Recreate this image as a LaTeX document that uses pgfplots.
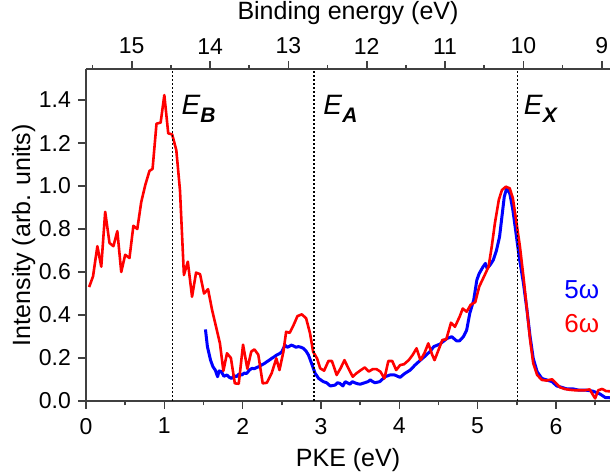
\documentclass[border=0pt]{standalone}
\usepackage{fontspec}
\setmainfont{Liberation Sans}
\setsansfont{Liberation Sans}
\usepackage{pgfplots}
\pgfplotsset{compat=1.18}

\newcommand{\elbl}[1]{\textit{E}\raisebox{-4pt}{\fontsize{10.5}{11}\selectfont\bfseries\itshape #1}}

\pgfplotsset{
  common/.style={
    scale only axis,
    width=262pt, height=165.85pt,
    xmin=0, xmax=6.69, ymin=0, ymax=1.543,
    tick align=outside,
    major tick length=4pt,
    minor tick length=2.2pt,
    every tick/.style={black!75, line width=0.8pt},
    axis line style={black!75, line width=0.8pt},
    every tick label/.append style={font=\fontsize{11.5}{13}\selectfont},
    label style={font=\fontsize{12.5}{14}\selectfont},
    /pgf/number format/assume math mode=true,
  },
}

\begin{document}
\begin{tikzpicture}
\begin{axis}[
    common,
    name=ax,
    axis x line*=bottom,
    axis y line*=left,
    xtick={0,1,2,3,4,5,6},
    minor xtick={0.5,1.5,2.5,3.5,4.5,5.5,6.5},
    ytick={0,0.2,0.4,0.6,0.8,1.0,1.2,1.4},
    yticklabel style={/pgf/number format/.cd, fixed, fixed zerofill, precision=1},
    xticklabel style={yshift=-1pt},
    xlabel={PKE (eV)},
    ylabel={Intensity (arb. units)},
    ylabel shift=-5pt,
]

  % 5 omega
  \addplot[blue, line width=1.5pt, line join=round] coordinates {
    (1.525,0.333) (1.55,0.253) (1.59,0.19) (1.62,0.16) (1.65,0.144) (1.68,0.113)
    (1.70,0.14) (1.73,0.136) (1.76,0.115) (1.80,0.121) (1.83,0.11) (1.86,0.105)
    (1.89,0.118) (1.92,0.113) (1.95,0.125) (1.99,0.121) (2.02,0.13) (2.05,0.128)
    (2.09,0.145) (2.12,0.152) (2.15,0.15) (2.18,0.156) (2.21,0.16) (2.24,0.167)
    (2.28,0.175) (2.31,0.183) (2.34,0.19) (2.37,0.198) (2.40,0.205) (2.435,0.214)
    (2.47,0.22) (2.50,0.229) (2.54,0.26) (2.57,0.25) (2.59,0.253) (2.62,0.26)
    (2.65,0.256) (2.68,0.25) (2.71,0.253) (2.745,0.25) (2.775,0.245) (2.81,0.232)
    (2.84,0.214) (2.88,0.175) (2.925,0.129) (2.97,0.105) (3.03,0.09) (3.07,0.085)
    (3.12,0.07) (3.18,0.074) (3.21,0.085) (3.24,0.082) (3.28,0.07) (3.31,0.09)
    (3.37,0.078) (3.40,0.09) (3.43,0.085) (3.47,0.08) (3.50,0.078) (3.56,0.085)
    (3.60,0.09) (3.63,0.098) (3.66,0.09) (3.69,0.085) (3.75,0.09) (3.78,0.10)
    (3.82,0.113) (3.88,0.121) (3.94,0.121) (4.01,0.11) (4.07,0.128) (4.14,0.144)
    (4.20,0.167) (4.27,0.19) (4.33,0.209) (4.36,0.22) (4.39,0.229) (4.44,0.253)
    (4.52,0.265) (4.61,0.291) (4.67,0.299) (4.73,0.28) (4.77,0.28) (4.82,0.30)
    (4.86,0.33) (4.90,0.408) (4.95,0.47) (4.99,0.563) (5.02,0.593) (5.07,0.625)
    (5.10,0.64) (5.12,0.617) (5.16,0.633) (5.20,0.656) (5.24,0.70) (5.28,0.764)
    (5.31,0.857) (5.34,0.95) (5.37,0.989) (5.41,0.966) (5.45,0.888) (5.49,0.78)
    (5.53,0.671) (5.585,0.547) (5.63,0.423) (5.67,0.299) (5.71,0.198) (5.76,0.136)
    (5.82,0.105) (5.88,0.098) (5.95,0.09) (6.01,0.07) (6.07,0.064) (6.14,0.056)
    (6.22,0.056) (6.30,0.05) (6.39,0.05) (6.47,0.046) (6.56,0.033) (6.63,0.016)
    (6.69,0.015)
  };

  % 6 omega
  \addplot[red, line width=1.3pt, line join=round] coordinates {
    (0.04,0.53) (0.09,0.58) (0.145,0.72) (0.195,0.625) (0.245,0.88) (0.30,0.735)
    (0.35,0.72) (0.40,0.79) (0.45,0.60) (0.50,0.68) (0.555,0.665) (0.605,0.815)
    (0.655,0.80) (0.705,0.925) (0.757,1.005) (0.81,1.07) (0.85,1.08) (0.90,1.29)
    (0.953,1.295) (1.00,1.423) (1.05,1.245) (1.10,1.24) (1.153,1.167) (1.20,0.98)
    (1.25,0.586) (1.30,0.648) (1.354,0.485) (1.405,0.597) (1.456,0.59) (1.507,0.50)
    (1.558,0.52) (1.61,0.423) (1.66,0.346) (1.71,0.268) (1.754,0.14) (1.80,0.222)
    (1.85,0.20) (1.90,0.082) (1.95,0.08) (2.005,0.262) (2.06,0.15) (2.11,0.23)
    (2.15,0.24) (2.20,0.215) (2.256,0.082) (2.31,0.085) (2.37,0.129) (2.43,0.198)
    (2.47,0.144) (2.52,0.229) (2.555,0.322) (2.60,0.317) (2.65,0.353) (2.70,0.395)
    (2.755,0.403) (2.81,0.385) (2.86,0.315) (2.90,0.229) (2.95,0.198) (2.99,0.152)
    (3.04,0.141) (3.095,0.186) (3.14,0.186) (3.20,0.121) (3.25,0.152) (3.30,0.19)
    (3.35,0.152) (3.405,0.113) (3.45,0.128) (3.51,0.144) (3.56,0.156) (3.61,0.137)
    (3.66,0.148) (3.71,0.148) (3.76,0.136) (3.81,0.105) (3.86,0.186) (3.91,0.186)
    (3.96,0.144) (4.01,0.167) (4.06,0.171) (4.12,0.19) (4.17,0.214) (4.22,0.245)
    (4.27,0.19) (4.32,0.222) (4.37,0.268) (4.42,0.215) (4.45,0.19) (4.50,0.237)
    (4.55,0.284) (4.60,0.287) (4.66,0.364) (4.71,0.345) (4.77,0.392) (4.81,0.43)
    (4.86,0.415) (4.91,0.447) (4.97,0.46) (5.02,0.532) (5.08,0.578) (5.14,0.625)
    (5.18,0.718) (5.22,0.826) (5.27,0.935) (5.31,0.981) (5.36,0.997) (5.41,0.989)
    (5.45,0.943) (5.50,0.819) (5.54,0.718) (5.585,0.578) (5.63,0.423) (5.67,0.284)
    (5.71,0.175) (5.76,0.121) (5.82,0.098) (5.88,0.095) (5.95,0.101) (5.99,0.087)
    (6.05,0.064) (6.11,0.056) (6.18,0.052) (6.24,0.05) (6.30,0.05) (6.37,0.05)
    (6.43,0.054) (6.50,0.012) (6.54,0.05) (6.59,0.056) (6.64,0.046) (6.69,0.045)
  };

  % thresholds
  \foreach \e in {1.10,2.91,5.51} {
    \edef\tmp{\noexpand\draw[black, line width=0.6pt, dash pattern=on 0.9pt off 1.1pt]
      (axis cs:\e,0) -- (axis cs:\e,1.543);}
    \tmp
  }

  \node[anchor=base west, inner sep=0, xshift=4.5pt, font=\fontsize{14}{15}\selectfont]
    at (axis cs:1.10,1.335) {\elbl{B}};
  \node[anchor=base west, inner sep=0, xshift=4.5pt, font=\fontsize{14}{15}\selectfont]
    at (axis cs:2.91,1.335) {\elbl{A}};
  \node[anchor=base west, inner sep=0, xshift=3pt, font=\fontsize{14}{15}\selectfont]
    at (axis cs:5.51,1.335) {\elbl{X}};

  \node[blue, inner sep=0, font=\fontsize{13}{14}\selectfont] at (axis cs:6.33,0.516) {5ω};
  \node[red, inner sep=0, font=\fontsize{13}{14}\selectfont] at (axis cs:6.33,0.358) {6ω};
\end{axis}

% binding energy scale on top
\begin{axis}[
    common,
    axis x line*=top,
    axis y line=none,
    xtick={0.584,1.584,2.584,3.584,4.584,5.584,6.584},
    xticklabels={15,14,13,12,11,10,9},
    minor xtick={0.084,1.084,2.084,3.084,4.084,5.084,6.084},
    xlabel={Binding energy (eV)},
]
\end{axis}

\pgfresetboundingbox
\path[use as bounding box] ([shift={(-43pt,-36.5pt)}]ax.south west)
  rectangle ([shift={(0pt,34.65pt)}]ax.north east);
\end{tikzpicture}
\end{document}
